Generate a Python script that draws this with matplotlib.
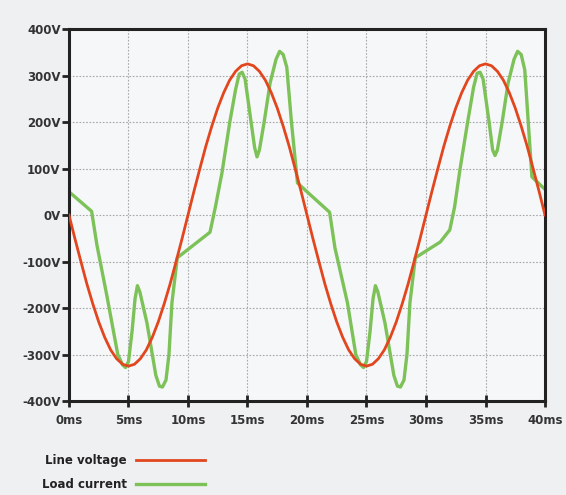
import numpy as np
import matplotlib.pyplot as plt

volt_t = np.arange(0, 40.5, 0.5)
volt_v = [0, -51, -100, -148, -191, -230, -263, -290, -309, -321,
          -325, -321, -309, -290, -263, -230, -191, -148, -100, -51,
          0, 51, 100, 148, 191, 230, 263, 290, 309, 321,
          325, 321, 309, 290, 263, 230, 191, 148, 100, 51,
          0, -51, -100, -148, -191, -230, -263, -290, -309, -321,
          -325, -321, -309, -290, -263, -230, -191, -148, -100, -51,
          0, 51, 100, 148, 191, 230, 263, 290, 309, 321,
          325, 321, 309, 290, 263, 230, 191, 148, 100, 51,
          0]

# load current trace points
curr_t = [0, 1.9, 2.35, 3.2, 4.1, 4.5, 4.75, 5.0, 5.3, 5.55, 5.75, 5.95,
          6.55, 7.3, 7.6, 7.85, 8.15, 8.4, 8.65, 9.1,
          11.85, 12.3, 12.85, 13.5, 14.0, 14.3, 14.55, 14.8, 15.3, 15.6, 15.8,
          16.0, 16.4, 16.9, 17.4, 17.7, 18.0, 18.3, 18.7,
          19.2, 20,
          21.9, 22.35, 23.4, 24.1, 24.5, 24.75, 25.0, 25.3, 25.55, 25.75, 25.95,
          26.55, 27.3, 27.6, 27.85, 28.15, 28.4, 28.65,
          29.1, 31.2, 32.0, 32.4, 32.85, 33.5, 34.0, 34.3, 34.55, 34.8, 35.3,
          35.6, 35.8, 36.0, 36.4, 36.9, 37.4, 37.7, 38.0, 38.3, 38.9, 40]
curr_v = [50, 8, -65, -176, -300, -322, -328, -315, -250, -180, -152, -165,
          -232, -345, -368, -370, -355, -300, -189, -92,
          -37, 17, 90, 198, 270, 303, 307, 292, 200, 145, 125,
          140, 200, 284, 335, 352, 345, 318, 198,
          69, 50,
          6, -71, -189, -300, -322, -328, -315, -250, -180, -152, -165,
          -232, -345, -368, -370, -355, -300, -189,
          -92, -58, -32, 17, 97, 200, 275, 305, 307, 292, 200,
          140, 128, 140, 200, 284, 335, 352, 345, 312, 82, 55]

x_ticks = [0, 5, 10, 15, 20, 25, 30, 35, 40]
x_labels = ["0ms", "5ms", "10ms", "15ms", "20ms", "25ms", "30ms", "35ms", "40ms"]
y_ticks = [-400, -300, -200, -100, 0, 100, 200, 300, 400]
y_labels = ["-400V", "-300V", "-200V", "-100V", "0V", "100V", "200V", "300V", "400V"]

fig = plt.figure(figsize=(5.66, 4.95), dpi=100, facecolor="#eef0f2")
ax = fig.add_axes([0.1219, 0.1899, 0.841, 0.7515])
ax.set_facecolor("#f6f7f8")

ax.plot(volt_t, volt_v, color="#e2461e", lw=2.0, label="Line voltage", zorder=3)
ax.plot(curr_t, curr_v, color="#7dc258", lw=2.4, label="Load current", zorder=2,
        solid_joinstyle="round")

ax.set_xlim(0, 40)
ax.set_ylim(-400, 400)
ax.set_xticks(x_ticks)
ax.set_xticklabels(x_labels)
ax.set_yticks(y_ticks)
ax.set_yticklabels(y_labels)

ax.grid(True, color="#a8a8a8", lw=0.8, linestyle=(0, (1.5, 1.5)))
for s in ax.spines.values():
    s.set_linewidth(2.2)
    s.set_color("#222222")

ax.tick_params(axis="y", direction="out", length=5, width=2, pad=1,
               labelsize=8.5, labelcolor="#333333", color="#222222")
ax.tick_params(axis="x", direction="inout", length=9, width=2, pad=5,
               labelsize=8.5, labelcolor="#333333", color="#222222")
for lab in ax.get_xticklabels() + ax.get_yticklabels():
    lab.set_fontweight("bold")

leg = fig.legend(loc="upper left", bbox_to_anchor=(0.055, 0.105), frameon=False,
                 markerfirst=False, handlelength=5.8, handletextpad=0.8,
                 labelspacing=0.95, prop={"weight": "bold", "size": 8.5})
for t in leg.get_texts():
    t.set_color("#222222")

fig.savefig("out.png", dpi=100, facecolor=fig.get_facecolor())
